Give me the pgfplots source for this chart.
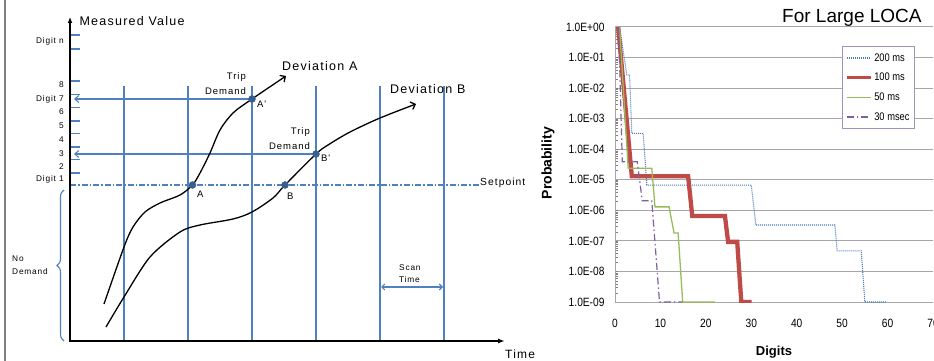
\documentclass[border=0pt]{standalone}
\usepackage{fontspec}
\setmainfont{Liberation Sans}
\newfontfamily\narrowfont[FakeStretch=0.85]{Liberation Sans}
\newfontfamily\gothic[LetterSpace=10]{Liberation Sans}
\usepackage{pgfplots}
\pgfplotsset{compat=1.18}
\usetikzlibrary{arrows.meta,decorations.pathreplacing}
\definecolor{xlblue}{HTML}{4F81BD}
\definecolor{ptblue}{HTML}{3A5F8F}
\definecolor{c200}{HTML}{4A7EBB}
\definecolor{c100}{HTML}{BE4B48}
\definecolor{c50}{HTML}{9BBB59}
\definecolor{c30}{HTML}{7D60A0}
\definecolor{gridgray}{HTML}{A6A6A6}
\begin{document}
\begin{tikzpicture}
\path[use as bounding box] (0,0) rectangle (934pt,361pt);
% ---------------- left schematic ----------------
\begin{axis}[at={(0pt,0pt)}, anchor=south west, scale only axis,
  width=540pt, height=361pt, xmin=0, xmax=540, ymin=0, ymax=361,
  hide axis, clip=false]
\addplot[gray, line width=1.2pt] coordinates {(5,0) (5,361)};
\pgfplotsinvokeforeach{124,188,252,316,380,444}{
  \addplot[xlblue, line width=1.4pt] coordinates {(#1,20) (#1,275)};
}
\pgfplotsinvokeforeach{326,312,280,266.5,253.5,240,227.5,214,201.5,188}{
  \addplot[xlblue, line width=1.2pt] coordinates {(70,#1) (80,#1)};
}
\addplot[xlblue, line width=1.1pt, dash pattern=on 6pt off 2pt on 1.5pt off 2pt] coordinates {(70,176) (480,176)};
\addplot[xlblue, line width=1.1pt, -{Straight Barb[length=4pt,width=7pt]}] coordinates {(252,262) (74,262)};
\addplot[xlblue, line width=1.1pt, -{Straight Barb[length=4pt,width=7pt]}] coordinates {(316,207) (74,207)};
\addplot[xlblue, line width=1.1pt, {Straight Barb[length=3pt,width=6pt]}-{Straight Barb[length=3pt,width=6pt]}] coordinates {(381,74) (443,74)};
\addplot[xlblue, line width=1.1pt, decorate, decoration={brace, amplitude=7pt}] coordinates {(64,20) (64,171)};
\addplot[black, line width=2pt, -{Latex[length=6pt,width=5pt]}] coordinates {(70,20) (70,344)};
\addplot[black, line width=2pt, -{Latex[length=7pt,width=5pt]}] coordinates {(69,20) (505,20)};
\addplot[black, line width=1.3pt, smooth, -{Straight Barb[length=4pt,width=8pt]}] coordinates {
 (104,57) (124,114) (133,134) (145,149) (160,158) (180,166) (192.5,176) (200,188)
 (210,208) (220,231) (233,248) (252,262) (286,285)};
\addplot[black, line width=1.3pt, smooth, -{Straight Barb[length=4pt,width=8pt]}] coordinates {
 (106,34) (124,64) (150,104) (180,129) (200,136) (233,142) (252,149) (273,163)
 (285,176) (316,207) (328,216) (350,229) (380,243) (416,257)};
\addplot[only marks, mark=*, mark size=3.5pt, ptblue] coordinates {(192.5,176) (252,262) (285,176) (316,207)};
\node[anchor=west, font=\gothic\fontsize{12.5}{14}\selectfont] at (axis cs:76,340) {Measured Value};
\begin{scope}[every node/.style={anchor=east, font=\gothic\fontsize{8.3}{9}\selectfont, inner sep=1pt}]
\node at (axis cs:65,320) {Digit n};
\node at (axis cs:65,276) {8};
\node at (axis cs:65,262) {Digit 7};
\node at (axis cs:65,249) {6};
\node at (axis cs:65,235) {5};
\node at (axis cs:65,221) {4};
\node at (axis cs:65,207) {3};
\node at (axis cs:65,194) {2};
\node at (axis cs:65,182) {Digit 1};
\end{scope}
\begin{scope}[every node/.style={font=\gothic\fontsize{9.5}{10}\selectfont, inner sep=1pt}]
\node[anchor=east] at (axis cs:247,284) {Trip};
\node[anchor=east] at (axis cs:247,270) {Demand};
\node[anchor=east] at (axis cs:311,229) {Trip};
\node[anchor=east] at (axis cs:311,215) {Demand};
\node[anchor=west] at (axis cs:196,167) {A};
\node[anchor=west] at (axis cs:256,257) {A'};
\node[anchor=west] at (axis cs:286,165) {B};
\node[anchor=west] at (axis cs:320,203) {B'};
\node[anchor=west, font=\gothic\fontsize{10.3}{11}\selectfont] at (axis cs:479,178) {Setpoint};
\node[anchor=west, font=\gothic\fontsize{8.3}{9}\selectfont] at (axis cs:398,93) {Scan};
\node[anchor=west, font=\gothic\fontsize{8.3}{9}\selectfont] at (axis cs:398,81) {Time};
\node[anchor=west, font=\gothic\fontsize{8.3}{9}\selectfont] at (axis cs:11,102) {No};
\node[anchor=west, font=\gothic\fontsize{8.3}{9}\selectfont] at (axis cs:11,89) {Demand};
\end{scope}
\node[anchor=west, font=\gothic\fontsize{12.5}{14}\selectfont, inner sep=0pt] at (axis cs:282,295) {Deviation A};
\node[anchor=west, font=\gothic\fontsize{12.5}{14}\selectfont, inner sep=0pt] at (axis cs:390,272) {Deviation B};
\node[anchor=west, font=\gothic\fontsize{12}{14}\selectfont, inner sep=0pt] at (axis cs:505,6.5) {Time};
\end{axis}
% ---------------- right chart ----------------
\begin{axis}[at={(615pt,59pt)}, anchor=south west, scale only axis,
  width=318pt, height=275pt, xmin=0, xmax=70, ymode=log, ymin=1e-9, ymax=1,
  axis lines*=left, axis line style={gridgray, line width=1pt},
  major tick length=0pt, clip mode=individual,
  ymajorgrids, grid style={gridgray, line width=1pt},
  xtick={0,10,20,30,40,50,60,70},
  ytick={1e-9,1e-8,1e-7,1e-6,1e-5,1e-4,1e-3,1e-2,1e-1,1},
  yticklabels={1.0E-09,1.0E-08,1.0E-07,1.0E-06,1.0E-05,1.0E-04,1.0E-03,1.0E-02,1.0E-01,1.0E+00},
  tick label style={font=\narrowfont\fontsize{12}{14}\selectfont},
  /pgf/number format/assume math mode=true,
  xticklabel style={yshift=-14pt},
  yticklabel style={xshift=-7pt},
  xlabel={Digits}, ylabel={Probability},
  xlabel style={font=\bfseries\fontsize{13}{15}\selectfont, at={(axis description cs:0.5,-0.182)}, anchor=center},
  ylabel style={font=\bfseries\fontsize{14}{16}\selectfont, at={(axis description cs:-0.211,0.505)}, anchor=center},
  legend style={at={(0.714,0.931)}, anchor=north west, draw=c30!70, line width=0.8pt,
    font=\narrowfont\fontsize{11}{12}\selectfont, row sep=6.5pt, inner xsep=3pt, inner ysep=5pt},
  legend cell align=left,
  legend image code/.code={\draw[#1] (0pt,0pt) -- (24pt,0pt);},
]
\addplot[c200, line width=1.1pt, dash pattern=on 1pt off 1pt] coordinates {
 (1,1) (2.6,2.7e-2) (3.2,2.7e-2) (3.7,3.3e-4) (6.2,3.3e-4) (7.0,6.7e-6) (30.0,6.7e-6)
 (31.0,3.3e-7) (48.4,3.3e-7) (48.9,4.7e-8) (54.2,4.7e-8) (55.0,1e-9) (59.7,1e-9)};
\addlegendentry{200 ms}
\addplot[c100, line width=4.3pt, legend image post style={line width=2.8pt}] coordinates {
 (0.7,1) (3.7,1.3e-5) (16.1,1.3e-5) (17.0,6.5e-7) (24.2,6.5e-7) (24.9,9.3e-8)
 (26.9,9.3e-8) (27.8,1e-9) (30.1,1e-9)};
\addlegendentry{100 ms}
\addplot[c50, line width=1.3pt] coordinates {
 (1,1) (2.9,2.4e-5) (8.1,2.4e-5) (8.8,1.3e-6) (11.9,1.3e-6) (13.0,1.8e-7)
 (13.9,1.8e-7) (14.9,1e-9) (22,1e-9)};
\addlegendentry{50 ms}
\addplot[c30, line width=1.2pt, dash pattern=on 7pt off 3pt on 1.5pt off 3pt] coordinates {
 (0.8,1) (1.6,3.9e-5) (4.9,3.9e-5) (6.0,2.05e-6) (8.1,2.05e-6) (9.8,1e-9) (14.8,1e-9)};
\addlegendentry{30 msec}
\node[font=\fontsize{19}{22}\selectfont] at (axis description cs:0.745,1.033) {For Large LOCA};
\end{axis}
\end{tikzpicture}
\end{document}
